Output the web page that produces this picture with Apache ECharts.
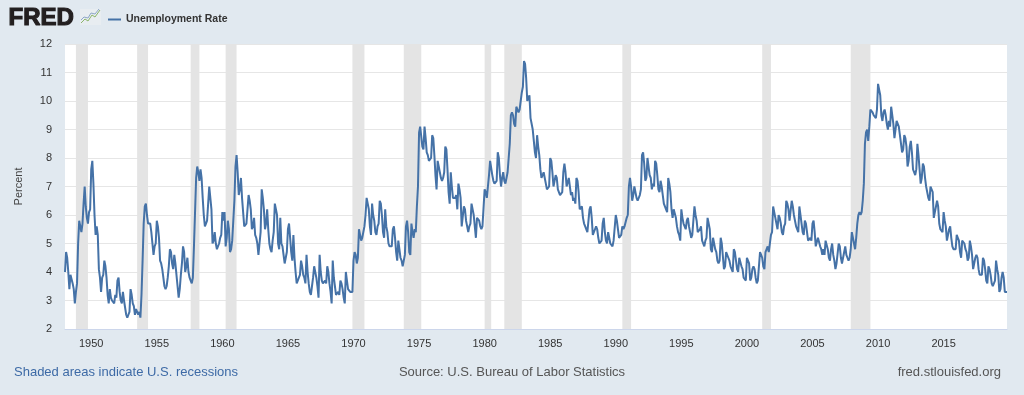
<!DOCTYPE html>
<html>
<head>
<meta charset="utf-8">
<script src="https://cdn.jsdelivr.net/npm/echarts@6/dist/echarts.min.js"></script>
<style>
html,body{margin:0;padding:0;background:#e1e9f0;}
#chart{width:1024px;height:395px;}
</style>
</head>
<body>
<div id="chart"></div>
<script>
// Unemployment Rate (not seasonally adjusted), monthly, Jan 1948 - Nov 2019
const startYear = 1948;
const u1940s50s = [
4.0,4.7,4.5,4.0,3.4,3.9,3.9,3.6,3.4,2.9,3.3,3.6,
5.0,5.8,5.6,5.4,5.7,6.4,7.0,6.3,5.9,5.7,6.1,6.2,
7.6,7.9,7.1,6.0,5.3,5.6,5.3,4.1,3.8,3.3,3.8,3.9,
4.4,4.2,3.8,3.2,2.9,3.4,3.1,3.0,3.0,2.9,3.2,3.1,
3.7,3.8,3.3,3.0,2.9,3.3,3.0,3.0,2.5,2.4,2.5,2.6,
3.4,3.2,2.9,2.8,2.5,2.7,2.6,2.5,2.6,2.4,3.2,4.4,
5.7,6.3,6.4,6.0,5.7,5.7,5.7,5.4,5.0,4.6,4.9,5.0,
5.8,5.6,5.2,4.4,4.3,4.1,3.8,3.5,3.4,3.5,3.8,4.2,
4.8,4.7,4.3,4.1,4.6,4.3,3.9,3.5,3.1,3.4,3.9,4.3,
4.9,4.7,4.0,4.2,4.5,4.0,3.8,3.7,3.6,3.8,4.9,6.1,
7.3,7.7,7.5,7.2,7.6,7.3,6.6,6.0,5.6,5.7,5.8,6.4,
7.0,7.0,6.2,5.0,5.1,5.4,5.0,4.8,4.8,5.0,5.2,5.3
];
const u1960s = [
6.1,5.8,6.1,4.9,5.2,5.8,5.5,4.7,4.8,5.1,5.8,6.5,
7.7,8.1,7.5,6.7,6.9,7.3,6.6,6.1,5.6,5.6,5.7,6.2,
6.7,6.5,6.2,5.5,5.6,5.9,5.3,5.2,5.0,4.6,5.0,5.4,
6.9,6.6,6.2,5.5,5.7,6.2,5.5,5.0,4.8,4.7,5.1,5.4,
6.4,6.2,6.0,5.0,4.8,5.9,5.0,4.9,4.6,4.3,4.5,4.7,
5.5,5.7,5.2,4.7,4.4,5.3,4.5,4.0,3.6,3.7,3.8,3.9,
4.4,4.2,3.9,3.8,3.6,4.6,4.0,3.6,3.3,3.2,3.5,3.8,
4.2,4.2,3.8,3.5,3.1,4.6,4.0,3.7,3.6,3.6,3.7,3.6,
4.2,4.0,3.6,3.3,2.9,4.4,3.8,3.5,3.2,3.2,3.3,3.2,
3.7,3.6,3.4,3.1,2.9,4.0,3.7,3.4,3.4,3.3,3.3,3.3
];
const u1970s = [
4.4,4.7,4.6,4.3,4.5,5.5,5.3,5.1,5.2,5.2,5.6,6.0,
6.6,6.6,6.2,5.6,5.3,6.4,6.0,5.8,5.4,5.3,5.6,5.7,
6.5,6.4,6.0,5.4,5.2,6.2,5.6,5.4,5.0,4.9,4.9,4.9,
5.5,5.6,5.2,4.7,4.4,5.1,4.8,4.5,4.4,4.2,4.4,4.6,
5.6,5.8,5.4,4.7,4.6,5.7,5.4,5.2,5.5,5.4,6.3,7.0,
8.9,9.1,9.1,8.4,8.3,9.1,8.7,8.2,8.1,7.9,7.9,8.0,
8.8,8.7,8.1,7.4,6.9,7.9,7.7,7.5,7.3,7.2,7.3,7.5,
8.4,8.3,7.6,6.8,6.4,7.5,7.0,6.6,6.6,6.6,6.7,6.2,
7.1,6.9,6.6,5.6,5.6,6.3,6.2,5.8,5.6,5.4,5.6,5.7,
6.4,6.4,6.0,5.6,5.2,5.9,5.9,5.8,5.6,5.5,5.6,5.6
];
const u1980s = [
6.9,6.8,6.6,6.6,7.4,7.9,7.9,7.4,7.2,7.1,7.1,7.2,
8.2,8.0,7.4,7.0,7.3,7.5,7.2,7.1,7.3,7.5,8.0,8.5,
9.5,9.6,9.5,9.2,9.1,9.8,9.8,9.6,9.7,10.0,10.3,10.5,
11.4,11.3,10.8,10.0,10.0,10.2,9.4,9.2,9.0,8.6,8.2,8.0,
8.8,8.4,8.1,7.6,7.3,7.3,7.5,7.3,7.1,6.9,6.9,7.0,
8.0,7.9,7.5,7.0,7.0,7.4,7.3,6.9,6.9,6.7,6.7,6.8,
7.5,7.8,7.5,7.0,7.0,7.3,7.0,6.7,6.8,6.5,6.6,6.4,
7.3,7.2,6.8,6.2,6.2,6.3,5.9,5.7,5.6,5.6,5.4,5.4,
6.2,6.3,5.9,5.3,5.3,5.5,5.6,5.5,5.2,5.0,5.0,5.1,
5.7,5.9,5.4,5.1,5.0,5.4,5.2,5.0,5.0,4.9,5.1,5.1
];
const u1990s = [
6.0,5.8,5.5,5.2,5.2,5.3,5.6,5.5,5.6,5.6,5.9,6.0,
7.0,7.3,7.0,6.5,6.7,7.0,6.8,6.6,6.5,6.5,6.7,6.9,
8.1,8.2,7.8,7.2,7.3,8.0,7.7,7.4,7.3,6.9,7.1,7.0,
7.9,7.8,7.4,6.9,6.8,7.2,7.0,6.7,6.4,6.4,6.2,6.1,
7.3,7.1,6.8,6.2,5.9,6.2,6.2,5.9,5.6,5.4,5.3,5.1,
6.2,5.9,5.7,5.6,5.5,5.8,5.9,5.6,5.4,5.2,5.3,5.3,
6.3,6.0,5.8,5.4,5.4,5.5,5.6,5.1,5.0,4.9,5.1,5.2,
5.9,5.7,5.5,4.8,4.7,5.2,5.0,4.8,4.7,4.4,4.3,4.4,
5.2,5.0,5.0,4.1,4.2,4.7,4.7,4.5,4.4,4.2,4.1,4.0,
4.8,4.7,4.4,4.1,4.0,4.5,4.5,4.2,4.1,3.8,3.8,3.7
];
const u2000s = [
4.5,4.4,4.3,3.7,3.8,4.1,4.2,4.1,3.8,3.6,3.7,3.7,
4.7,4.6,4.5,4.2,4.1,4.7,4.7,4.9,4.7,5.0,5.3,5.4,
6.3,6.1,6.1,5.7,5.5,6.0,5.9,5.7,5.4,5.3,5.6,5.7,
6.5,6.4,6.2,5.8,5.8,6.5,6.3,6.0,5.8,5.6,5.6,5.4,
6.3,6.0,6.0,5.4,5.3,5.8,5.7,5.4,5.1,5.1,5.2,5.1,
5.7,5.8,5.4,4.9,4.9,5.2,5.2,4.9,4.8,4.6,4.8,4.6,
5.1,5.1,4.8,4.5,4.4,4.8,5.0,4.6,4.4,4.1,4.3,4.3,
5.0,4.9,4.5,4.3,4.3,4.7,4.9,4.6,4.5,4.4,4.5,4.8,
5.4,5.2,5.2,4.8,5.2,5.7,6.0,6.1,6.0,6.1,6.5,7.1,
8.5,8.9,9.0,8.6,9.1,9.7,9.7,9.6,9.5,9.5,9.4,9.7
];
const u2010s = [
10.6,10.4,10.2,9.5,9.3,9.6,9.7,9.5,9.2,9.0,9.3,9.1,
9.8,9.5,9.2,8.7,8.7,9.3,9.3,9.1,8.8,8.5,8.2,8.3,
8.8,8.7,8.4,7.7,7.9,8.4,8.6,8.2,7.6,7.5,7.4,7.6,
8.5,8.1,7.6,7.1,7.3,7.8,7.7,7.3,7.0,7.0,6.6,6.5,
7.0,7.0,6.8,5.9,6.1,6.3,6.5,6.3,5.7,5.5,5.5,5.4,
6.1,5.8,5.6,5.1,5.3,5.5,5.6,5.2,4.9,4.8,4.8,4.8,
5.3,5.2,5.1,4.7,4.5,5.1,5.1,5.0,4.8,4.7,4.4,4.5,
5.1,4.9,4.6,4.1,4.1,4.5,4.6,4.5,4.1,3.9,3.9,3.9,
4.5,4.4,4.1,3.7,3.6,4.2,4.1,3.9,3.6,3.5,3.5,3.7,
4.4,4.1,3.9,3.3,3.4,3.8,4.0,3.8,3.3,3.3,3.3
];
// NBER recessions (peak month, trough month)
const recessions = [
['1948-11','1949-10'],['1953-07','1954-05'],['1957-08','1958-04'],
['1960-04','1961-02'],['1969-12','1970-11'],['1973-11','1975-03'],
['1980-01','1980-07'],['1981-07','1982-11'],['1990-07','1991-03'],
['2001-03','2001-11'],['2007-12','2009-06']
];
const yTicks = [2,3,4,5,6,7,8,9,10,11,12];
const xTickYears = [1950,1955,1960,1965,1970,1975,1980,1985,1990,1995,2000,2005,2010,2015];

const values = [].concat(u1940s50s, u1960s, u1970s, u1980s, u1990s, u2000s, u2010s);
const seriesData = values.map((v, i) => [startYear + i / 12, v]);
const toX = s => { const p = s.split('-').map(Number); return p[0] + (p[1] - 1) / 12; };
const areas = recessions.map(r => [{ xAxis: toX(r[0]) }, { xAxis: toX(r[1]) }]);

const chart = echarts.init(document.getElementById('chart'), null, { renderer: 'canvas' });
const font = '"Liberation Sans", Arial, sans-serif';
chart.setOption({
  backgroundColor: '#e1e9f0',
  animation: false,
  textStyle: { fontFamily: font },
  grid: { left: 65, right: 17, top: 44, bottom: 66, show: true, backgroundColor: '#ffffff', borderWidth: 0 },
  legend: {
    left: 103, top: 9, itemWidth: 13, itemHeight: 2, itemGap: 5, icon: 'rect',
    textStyle: { fontSize: 10.5, fontWeight: 'bold', color: '#333', fontFamily: font },
    data: ['Unemployment Rate']
  },
  xAxis: {
    type: 'value',
    min: startYear,
    max: seriesData[seriesData.length - 1][0],
    axisLine: { show: true, lineStyle: { color: '#ccd6eb', width: 1 } },
    axisTick: { show: false },
    splitLine: { show: false },
    axisLabel: { customValues: xTickYears, formatter: v => String(Math.round(v)), color: '#333', fontSize: 11, margin: 9, fontFamily: font },
  },
  yAxis: {
    type: 'value',
    min: yTicks[0], max: yTicks[yTicks.length - 1], interval: 1,
    name: 'Percent', nameLocation: 'middle', nameGap: 41, nameRotate: 90,
    nameTextStyle: { color: '#444', fontSize: 11, fontFamily: font },
    axisLine: { show: false }, axisTick: { show: false },
    axisLabel: { color: '#333', fontSize: 11, margin: 13, fontFamily: font },
    splitLine: { lineStyle: { color: '#e6e6e6', width: 1 } }
  },
  series: [{
    name: 'Unemployment Rate',
    type: 'line',
    data: seriesData,
    showSymbol: false,
    symbol: 'none',
    color: '#4572a7',
    lineStyle: { color: '#4572a7', width: 2 },
    markArea: { silent: true, itemStyle: { color: '#e4e4e4' }, data: areas },
    z: 3
  }],
  graphic: [
    { type: 'text', left: 8, top: 6, style: { text: 'FRED', font: 'bold 24px ' + font, fill: '#231f20', stroke: '#231f20', lineWidth: 1.2 } },
    { type: 'rect', shape: { x: 80, y: 9, width: 21, height: 16 }, style: { fill: '#e8edf1' } },
    { type: 'polyline', shape: { points: [[81,23],[85,19],[88,21],[92,15],[95,17],[100,10]] }, style: { stroke: '#8cb56b', lineWidth: 1, fill: null } },
    { type: 'polyline', shape: { points: [[81,20],[84,17],[88,18],[91,13],[95,14],[99,9]] }, style: { stroke: '#8fa8c8', lineWidth: 1, fill: null } },
    { type: 'text', left: 14, top: 366, style: { text: 'Shaded areas indicate U.S. recessions', font: '13px ' + font, fill: '#3d6aa6' } },
    { type: 'text', left: 'center', top: 366, style: { text: 'Source: U.S. Bureau of Labor Statistics', font: '13px ' + font, fill: '#555' } },
    { type: 'text', right: 23, top: 366, style: { text: 'fred.stlouisfed.org', font: '13px ' + font, fill: '#555' } }
  ]
});
</script>
</body>
</html>
